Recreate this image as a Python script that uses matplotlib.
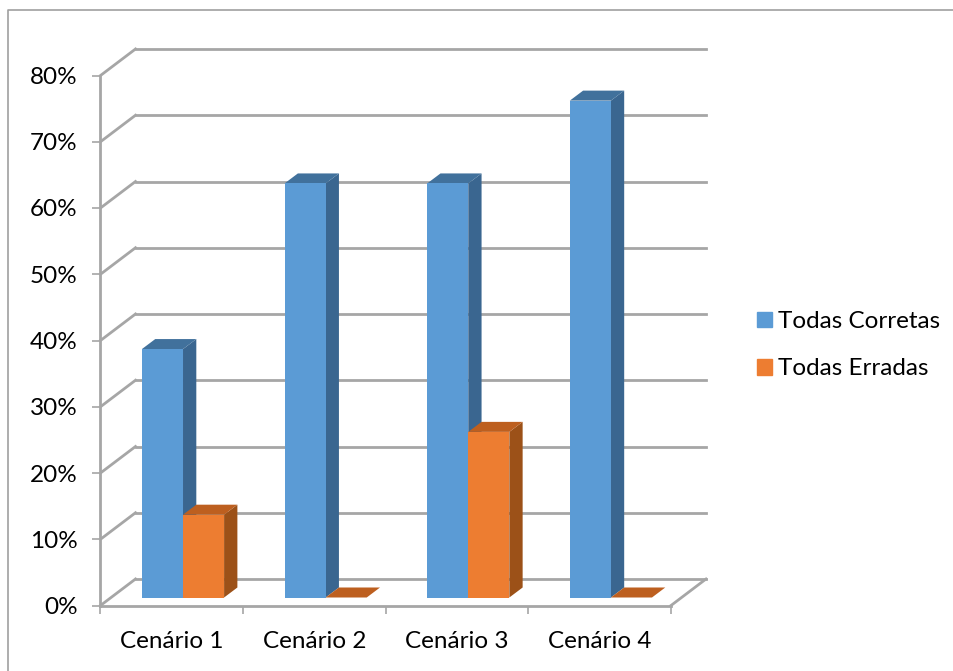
import matplotlib
matplotlib.use('Agg')
import matplotlib.pyplot as plt
from matplotlib.lines import Line2D
from matplotlib.patches import Patch, Polygon
from matplotlib.ticker import PercentFormatter
from matplotlib.transforms import Affine2D, IdentityTransform

# values
categories = ['Cenário 1', 'Cenário 2', 'Cenário 3', 'Cenário 4']
corretas = [0.375, 0.625, 0.625, 0.75]
erradas = [0.125, 0.0, 0.25, 0.0]
yticks = [0, 0.1, 0.2, 0.3, 0.4, 0.5, 0.6, 0.7, 0.8]

W, H = 954, 671
GRAY = '#a6a6a6'
WALL = (35, 26.5)   # back wall offset in pixels
BAR = (11.2, 8)     # where the bars stand on the floor
DEPTH = (13.3, 10)  # depth of a bar
BAR_W = 0.288
FONT = 17.5

plt.rcParams['font.family'] = ['Lato', 'DejaVu Sans']
fig = plt.figure(figsize=(W / 100, H / 100), dpi=100)
ax = fig.add_axes([100.5 / W, (H - 605.5) / H, 570.5 / W, 530 / H])
ax.set_xlim(0, 4)
ax.set_ylim(0, 0.8)
for s in ['top', 'right']:
    ax.spines[s].set_visible(False)
for s in ['left', 'bottom']:
    ax.spines[s].set_color(GRAY)
    ax.spines[s].set_linewidth(2)
    ax.spines[s].set_zorder(1)

ax.set_yticks(yticks)
ax.yaxis.set_major_formatter(PercentFormatter(1, decimals=0))
ax.set_xticks(range(5))
ax.set_xticklabels([])
ax.set_xticks([i + 0.5 for i in range(4)], categories, minor=True)
ax.tick_params(axis='both', which='major', color=GRAY, width=1.2, length=5.5, labelsize=FONT, pad=11)
ax.tick_params(axis='x', which='minor', length=0, labelsize=FONT, pad=18.5)


def shifted(dx, dy):
    return ax.transData + Affine2D().translate(dx, dy)


def pt(x, y, dx=0, dy=0):
    px, py = ax.transData.transform((x, y))
    return px + dx, py + dy


def line(a, b):
    ax.add_line(Line2D([a[0], b[0]], [a[1], b[1]], color=GRAY, lw=2, transform=IdentityTransform(),
                       clip_on=False, zorder=1, solid_capstyle='projecting'))


# back wall and floor
for y in yticks:
    line(pt(0, y), pt(0, y, *WALL))
    ax.plot([0, 4], [y, y], color=GRAY, lw=2, transform=shifted(*WALL), clip_on=False, zorder=1)
line(pt(4, 0), pt(4, 0, *WALL))


def bar3d(left, h, front, side, top):
    right = left + BAR_W
    dx, dy = BAR[0] + DEPTH[0], BAR[1] + DEPTH[1]
    ax.add_patch(Polygon([pt(right, 0, *BAR), pt(right, 0, dx, dy), pt(right, h, dx, dy), pt(right, h, *BAR)],
                         closed=True, fc=side, ec='none', transform=IdentityTransform(), clip_on=False, zorder=3))
    ax.add_patch(Polygon([pt(left, h, *BAR), pt(left, h, dx, dy), pt(right, h, dx, dy), pt(right, h, *BAR)],
                         closed=True, fc=top, ec='none', transform=IdentityTransform(), clip_on=False, zorder=3))
    if h > 0:
        ax.bar(left, h, BAR_W, align='edge', color=front, transform=shifted(*BAR), clip_on=False, zorder=3)


for i in range(4):
    bar3d(i + 0.5 - BAR_W, corretas[i], '#5b9bd5', '#3a6690', '#41719c')
for i in range(4):
    bar3d(i + 0.5, erradas[i], '#ed7d31', '#9c5118', '#bd5f1f')

handles = [Patch(color='#5b9bd5', label='Todas Corretas'), Patch(color='#ed7d31', label='Todas Erradas')]
fig.legend(handles=handles, loc='upper left', bbox_to_anchor=(757 / W, (H - 311) / H), frameon=False,
           fontsize=FONT, handlelength=0.62, handleheight=0.62, handletextpad=0.25, labelspacing=1.09,
           borderpad=0, borderaxespad=0)

# outer chart border, only top and left are in the crop
fig.add_artist(Line2D([8 / W, 8 / W, 1], [0, (H - 9.5) / H, (H - 9.5) / H], color='#a0a0a0', lw=1.2))

fig.savefig('out.png', dpi=100)
